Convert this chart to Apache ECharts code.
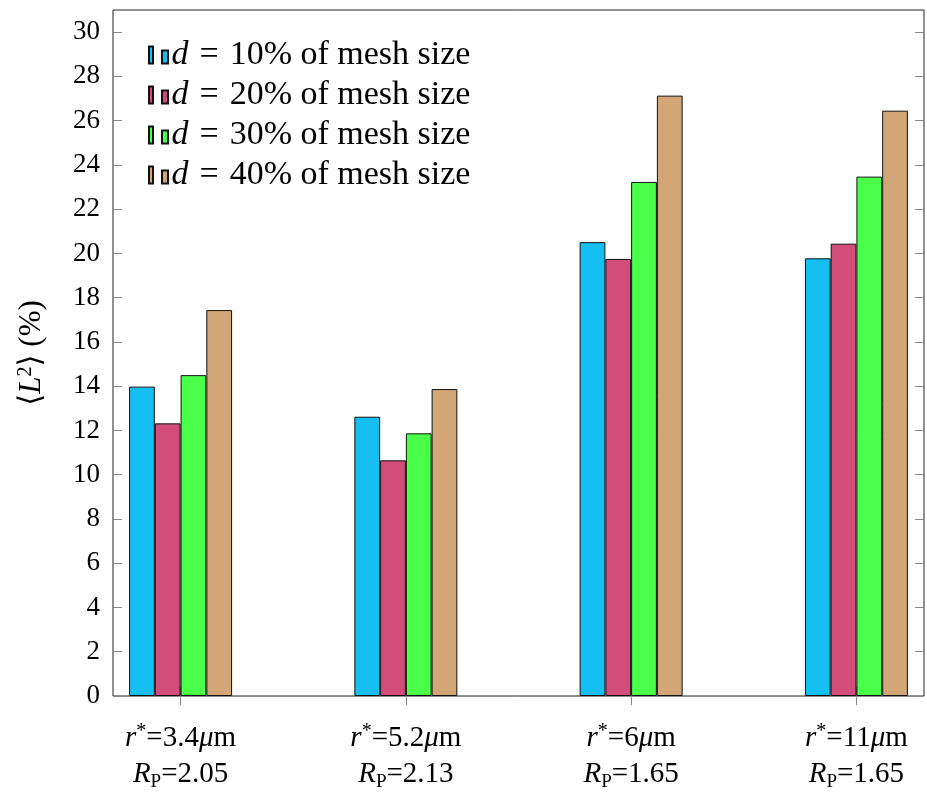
<!DOCTYPE html>
<html>
<head>
<meta charset="utf-8">
<script src="https://cdn.jsdelivr.net/npm/echarts@6/dist/echarts.min.js"></script>
<style>
html,body{margin:0;padding:0;background:#fff;}
#main{width:927px;height:792px;}
</style>
</head>
<body>
<div id="main"></div>
<script>
// ---- data ----
const groupX = [1, 2, 3, 4];
const rStar = ['3.4', '5.2', '6', '11'];
const rP = ['2.05', '2.13', '1.65', '1.65'];
const seriesNames = ['d = 10% of mesh size', 'd = 20% of mesh size', 'd = 30% of mesh size', 'd = 40% of mesh size'];
const d10 = [13.98, 12.62, 20.51, 19.78];
const d20 = [12.32, 10.65, 19.75, 20.44];
const d30 = [14.50, 11.87, 23.23, 23.47];
const d40 = [17.44, 13.87, 27.13, 26.45];
const yTicks = [0, 2, 4, 6, 8, 10, 12, 14, 16, 18, 20, 22, 24, 26, 28, 30];
const colors = ['#16BFF1', '#D24D79', '#4AFF4A', '#D3A678'];

const FONT = 'Liberation Serif, DejaVu Serif, serif';
const values = [d10, d20, d30, d40];

const chart = echarts.init(document.getElementById('main'), null, {renderer: 'canvas'});

const series = values.map((vals, i) => ({
  name: seriesNames[i],
  type: 'bar',
  xAxisIndex: 0,
  yAxisIndex: 0,
  barWidth: 25.75,
  barGap: '0%',
  data: groupX.map((x, k) => [x, vals[k]]),
  itemStyle: {color: colors[i], borderColor: '#111', borderWidth: 1},
  emphasis: {disabled: true},
  animation: false
}));

const tickStyle = {color: '#888', width: 1};

const option = {
  animation: false,
  textStyle: {fontFamily: FONT},
  grid: {left: 113, right: 3, top: 10, bottom: 96, show: true, borderColor: '#222', borderWidth: 1, backgroundColor: 'transparent'},
  legend: {
    orient: 'vertical',
    left: 143,
    top: 32,
    itemWidth: 20,
    itemHeight: 17,
    itemGap: 4,
    icon: 'path://M0,0h4v17h-4z M13,4h6v13h-6z',
    data: seriesNames,
    formatter: function (name) {
      return '{i|d}{eq|=}' + name.slice(4);
    },
    textStyle: {
      fontFamily: FONT, fontSize: 34, color: '#000', lineHeight: 36, padding: [0, 0, 0, -2],
      rich: {
        i: {fontStyle: 'italic', fontFamily: FONT, fontSize: 34, color: '#000', lineHeight: 36},
        eq: {fontFamily: FONT, fontSize: 34, color: '#000', lineHeight: 36, padding: [0, 11, 0, 11]}
      }
    },
    selectedMode: false
  },
  xAxis: [{
    type: 'value',
    position: 'bottom',
    min: 0.7, max: 4.3,
    axisLine: {show: false},
    splitLine: {show: false},
    axisTick: {show: true, inside: false, length: 9, lineStyle: tickStyle, customValues: groupX},
    axisLabel: {
      show: true, margin: 24, customValues: groupX,
      formatter: function (v) {
        const k = Math.round(v) - 1;
        return '{i|r}{sup|*}=' + rStar[k] + '{i|μ}m\n{i|R}{sub|P}=' + rP[k];
      },
      fontFamily: FONT, fontSize: 29, color: '#000', lineHeight: 36,
      rich: {
        i: {fontStyle: 'italic', fontFamily: FONT, fontSize: 29, color: '#000', lineHeight: 36},
        sup: {fontFamily: FONT, fontSize: 20, color: '#000', lineHeight: 36, verticalAlign: 'top', padding: [2, 0, 0, 0]},
        sub: {fontFamily: FONT, fontSize: 19, color: '#000', lineHeight: 36, verticalAlign: 'bottom', padding: [0, 0, 0, 0]}
      }
    }
  }, {
    type: 'value',
    position: 'top',
    min: 0.7, max: 4.3,
    axisLine: {show: false},
    splitLine: {show: false},
    axisTick: {show: true, inside: false, length: 9, lineStyle: tickStyle, customValues: groupX},
    axisLabel: {show: false}
  }],
  yAxis: [{
    type: 'value',
    position: 'left',
    min: 0, max: 31,
    axisLine: {show: false},
    splitLine: {show: false},
    axisTick: {show: true, inside: true, length: 9, lineStyle: tickStyle, customValues: yTicks},
    axisLabel: {show: true, customValues: yTicks, margin: 13, fontFamily: FONT, fontSize: 27, color: '#000'},
    name: '{a|⟨}{i|L}{sup|2}{a|⟩ (%)}',
    nameLocation: 'middle',
    nameRotate: 90,
    nameGap: 62,
    nameTextStyle: {
      fontFamily: FONT, fontSize: 31, color: '#000',
      rich: {
        a: {fontFamily: FONT, fontSize: 31, color: '#000', lineHeight: 38},
        i: {fontStyle: 'italic', fontFamily: FONT, fontSize: 31, color: '#000', lineHeight: 38},
        sup: {fontFamily: FONT, fontSize: 20, color: '#000', lineHeight: 38, verticalAlign: 'top', padding: [3, 0, 0, 0]}
      }
    }
  }, {
    type: 'value',
    position: 'right',
    min: 0, max: 31,
    axisLine: {show: false},
    splitLine: {show: false},
    axisTick: {show: true, inside: true, length: 9, lineStyle: tickStyle, customValues: yTicks},
    axisLabel: {show: false}
  }],
  series: series
};

chart.setOption(option);
</script>
</body>
</html>
